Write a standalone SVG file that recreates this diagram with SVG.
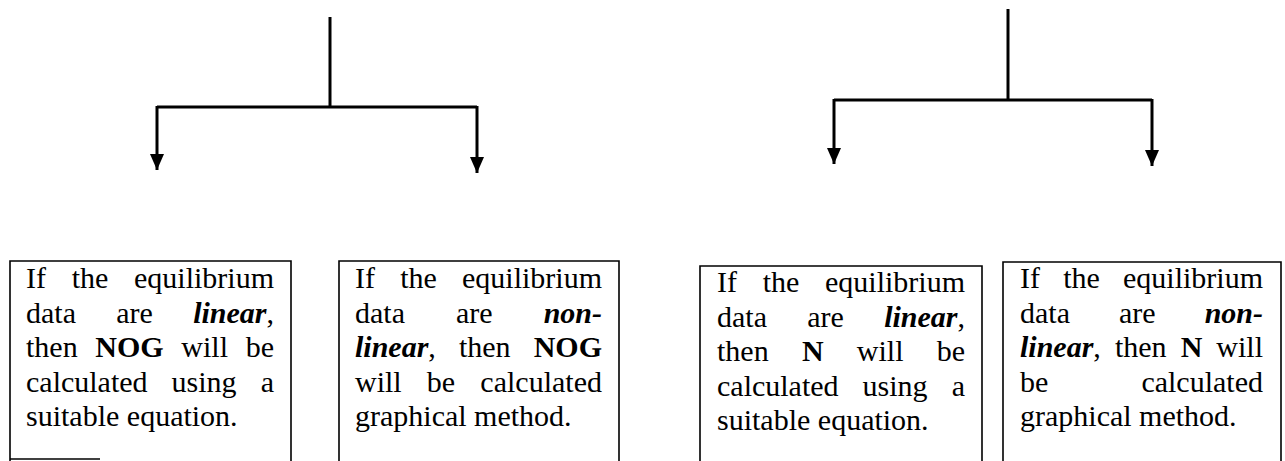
<svg xmlns="http://www.w3.org/2000/svg" width="1285" height="461" viewBox="0 0 1285 461">
<defs>
<marker id="ah" viewBox="0 0 16 14" refX="16" refY="7" markerWidth="16" markerHeight="14" markerUnits="userSpaceOnUse" orient="auto">
<path d="M0,0 L16,7 L0,14 Z" fill="#000"/>
</marker>
</defs>
<style>
.box{fill:none;stroke:#000;stroke-width:1.6}
.conn{fill:none;stroke:#000;stroke-width:3}
text{font-size:30px;fill:#000}
.bi{font-weight:bold;font-style:italic}
.b{font-weight:bold}
</style>
<rect width="1285" height="461" fill="#fff"/>
<g id="connectors">
<path class="conn" d="M330,17 V107"/>
<path class="conn" d="M157,107 H477"/>
<path class="conn" d="M157,106 V170" marker-end="url(#ah)"/>
<path class="conn" d="M477,106 V173" marker-end="url(#ah)"/>
<path class="conn" d="M1008,9 V100"/>
<path class="conn" d="M834,100 H1152"/>
<path class="conn" d="M834,99 V164" marker-end="url(#ah)"/>
<path class="conn" d="M1152,99 V166" marker-end="url(#ah)"/>
</g>
<g id="box1" font-family="'Liberation Serif', Tinos, 'Times New Roman', 'DejaVu Serif', serif">
<path class="box" d="M10,470 V261 H291 V470"/>
<path class="box" d="M10,459 H100"/>
<text x="26" y="288" word-spacing="18.18">If the equilibrium</text>
<text x="26" y="322.5" word-spacing="32.77">data are <tspan class="bi">linear</tspan>,</text>
<text x="26" y="357" word-spacing="10.17">then <tspan class="b">NOG</tspan> will be</text>
<text x="26" y="391.5" word-spacing="16.53">calculated using a</text>
<text x="26" y="426">suitable equation.</text>
</g>
<g id="box2" font-family="'Liberation Serif', Tinos, 'Times New Roman', 'DejaVu Serif', serif">
<path class="box" d="M339,470 V261 H619 V470"/>
<text x="355" y="288" word-spacing="17.68">If the equilibrium</text>
<text x="355" y="322.5" word-spacing="43.52">data are <tspan class="bi">non-</tspan></text>
<text x="355" y="357" word-spacing="15.58"><tspan class="bi">linear</tspan>, then <tspan class="b">NOG</tspan></text>
<text x="355" y="391.5" word-spacing="17.69">will be calculated</text>
<text x="355" y="426">graphical method.</text>
</g>
<g id="box3" font-family="'Liberation Serif', Tinos, 'Times New Roman', 'DejaVu Serif', serif">
<path class="box" d="M700,470 V266 H982 V470"/>
<text x="717" y="292" word-spacing="18.18">If the equilibrium</text>
<text x="717" y="326.5" word-spacing="32.77">data are <tspan class="bi">linear</tspan>,</text>
<text x="717" y="361" word-spacing="25.73">then <tspan class="b">N</tspan> will be</text>
<text x="717" y="395.5" word-spacing="16.53">calculated using a</text>
<text x="717" y="430">suitable equation.</text>
</g>
<g id="box4" font-family="'Liberation Serif', Tinos, 'Times New Roman', 'DejaVu Serif', serif">
<path class="box" d="M1003,470 V262 H1281 V470"/>
<text x="1020" y="288" word-spacing="15.68">If the equilibrium</text>
<text x="1020" y="322.5" word-spacing="41.52">data are <tspan class="bi">non-</tspan></text>
<text x="1020" y="357" word-spacing="6.55"><tspan class="bi">linear</tspan>, then <tspan class="b">N</tspan> will</text>
<text x="1020" y="391.5" word-spacing="85.56">be calculated</text>
<text x="1020" y="426">graphical method.</text>
</g>
</svg>
